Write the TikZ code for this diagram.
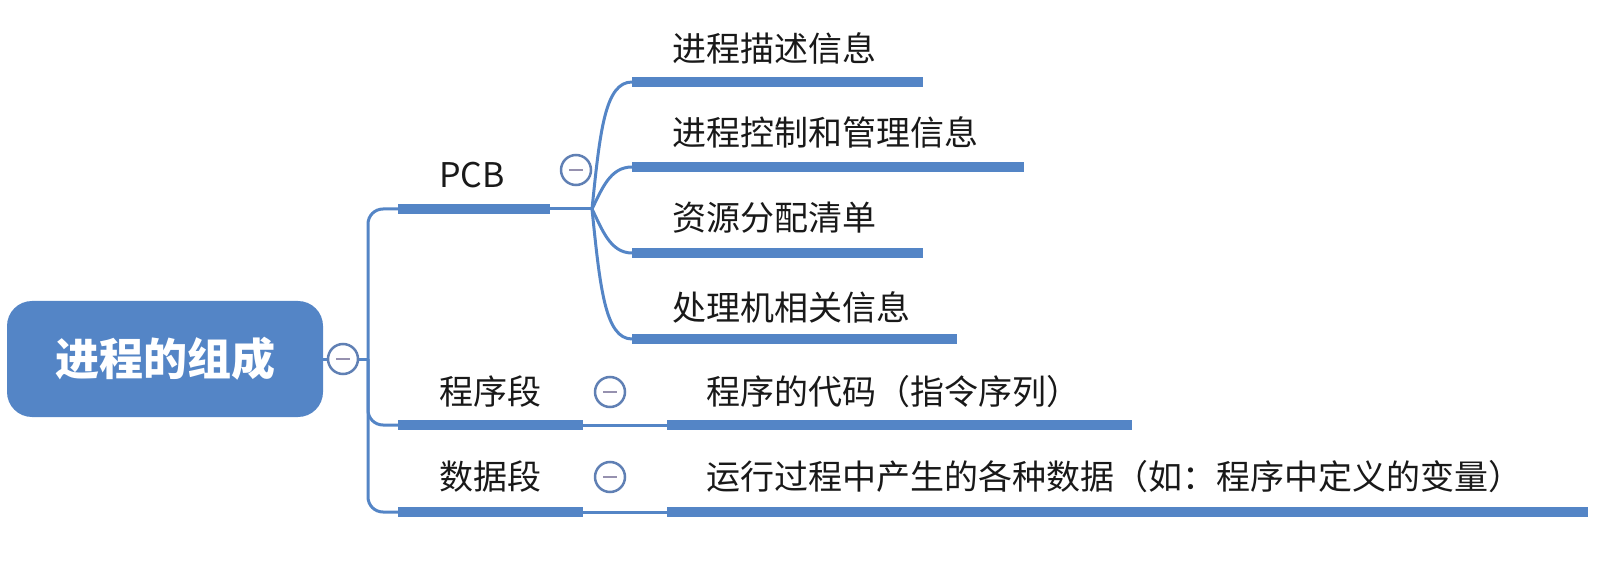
\documentclass[tikz,border=0pt]{standalone}
\usepackage{fontspec}
\setmainfont{Noto Sans CJK SC}
\usetikzlibrary{positioning}

\definecolor{mapblue}{RGB}{84,133,198}
\definecolor{foldblue}{RGB}{96,128,180}
\definecolor{foldminus}{RGB}{150,145,175}

\tikzset{
  topic/.style={font=\fontsize{34}{40}\selectfont, text=black!90, inner sep=0pt},
  bar/.style={draw=mapblue, line width=10pt},
  link/.style={draw=mapblue, line width=3pt},
  fold/.style={circle, draw=foldblue, line width=2.5pt, fill=white, minimum size=30pt, inner sep=0pt,
    path picture={\draw[foldminus, line width=2.5pt] ([xshift=-7pt]path picture bounding box.center) -- ([xshift=7pt]path picture bounding box.center);}},
}

\begin{document}
\begin{tikzpicture}[x=1pt,y=1pt]
  \useasboundingbox (0,0) rectangle (1609,571);

  % Define the points of the branches
  \coordinate (trunk) at (368,212);
  \coordinate (pcbL) at (398,362);  \coordinate (pcbR) at (550,362);  \coordinate (pcbJ) at (592,362);
  \coordinate (codeL) at (398,146); \coordinate (codeR) at (583,146); \coordinate (codeJ) at (667,146);
  \coordinate (dataL) at (398,59);  \coordinate (dataR) at (583,59);  \coordinate (dataJ) at (667,59);
  \coordinate (pcbA) at (632,489); \coordinate (pcbB) at (632,404);
  \coordinate (pcbC) at (632,318); \coordinate (pcbD) at (632,232);

  % Root topic
  \node[fill=mapblue, text=white, rounded corners=25pt, minimum width=316pt, minimum height=116pt,
        font=\fontsize{44}{50}\selectfont\bfseries] (root) at (165,212) {进程的组成};
  \draw[link] (root.east) -- (trunk);
  \draw[link, rounded corners=15pt] (pcbL) -| (dataL -| trunk) -- (dataL);
  \draw[link, rounded corners=15pt] (trunk) |- (codeL);
  \node[fold] (rootfold) at (343,212) {};

  % First level
  \draw[bar] (pcbL) -- (pcbR);
  \draw[bar] (codeL) -- (codeR);
  \draw[bar] (dataL) -- (dataR);
  \draw[link] (pcbR) -- (pcbJ);
  \draw[link] (codeR) -- (codeJ);
  \draw[link] (dataR) -- (dataJ);
  \node[topic] (pcb) at (472,396) {PCB};
  \node[topic] (code) at (490,179) {程序段};
  \node[topic] (data) at (490,94) {数据段};
  \node[fold] (pcbfold) at (576,401) {};
  \node[fold] (codefold) at (610,179) {};
  \node[fold] (datafold) at (610,94) {};

  % Children of PCB
  \draw[link] (pcbJ) .. controls (600,440) and (605,489) .. (pcbA);
  \draw[link] (pcbJ) .. controls (602,382) and (610,404) .. (pcbB);
  \draw[link] (pcbJ) .. controls (602,342) and (610,318) .. (pcbC);
  \draw[link] (pcbJ) .. controls (600,284) and (605,232) .. (pcbD);
  \draw[bar] (pcbA) -- ++(291,0);
  \draw[bar] (pcbB) -- ++(392,0);
  \draw[bar] (pcbC) -- ++(291,0);
  \draw[bar] (pcbD) -- ++(325,0);
  \node[topic, anchor=west] (pcbAtxt) at (672,523) {进程描述信息};
  \node[topic, anchor=west] (pcbBtxt) at (672,439) {进程控制和管理信息};
  \node[topic, anchor=west] (pcbCtxt) at (672,353) {资源分配清单};
  \node[topic, anchor=west] (pcbDtxt) at (672,264) {处理机相关信息};

  % Children of the two segments
  \draw[bar] (codeJ) -- ++(465,0);
  \draw[bar] (dataJ) -- ++(921,0);
  \node[topic, anchor=west] (codetxt) at (706,179) {程序的代码（指令序列）};
  \node[topic, anchor=west] (datatxt) at (706,94) {运行过程中产生的各种数据（如：程序中定义的变量）};
\end{tikzpicture}
\end{document}
